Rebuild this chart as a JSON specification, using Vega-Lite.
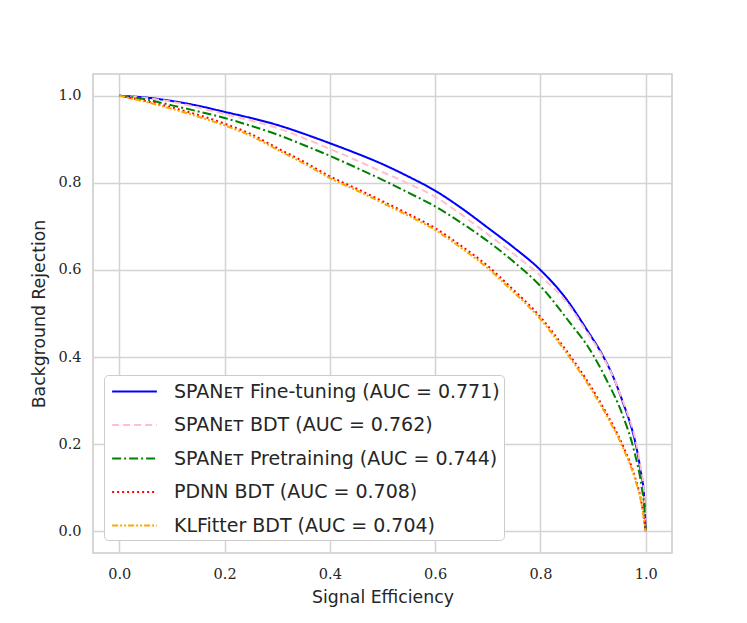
{
  "$schema": "https://vega.github.io/schema/vega-lite/v6.json",
  "autosize": "none",
  "width": 579,
  "height": 479,
  "padding": {"left": 93, "top": 74, "right": 75, "bottom": 70},
  "background": "white",
  "config": {
    "view": {"stroke": "#cccccc", "strokeWidth": 1.6},
    "axis": {
      "grid": true,
      "gridColor": "#d3d3d3",
      "gridWidth": 1.5,
      "domain": false,
      "ticks": false,
      "labelFont": "DejaVu Serif",
      "labelFontSize": 14.5,
      "labelColor": "#262626",
      "titleFont": "DejaVu Sans",
      "titleFontSize": 17.3,
      "titleFontWeight": "normal",
      "titleColor": "#262626"
    }
  },
  "datasets": {
    "roc": [
      {"m": "ft", "x": 0.0, "y": 1.0},
      {"m": "ft", "x": 0.05, "y": 0.996},
      {"m": "ft", "x": 0.1, "y": 0.988},
      {"m": "ft", "x": 0.15, "y": 0.977},
      {"m": "ft", "x": 0.2, "y": 0.963},
      {"m": "ft", "x": 0.25, "y": 0.949},
      {"m": "ft", "x": 0.3, "y": 0.933},
      {"m": "ft", "x": 0.35, "y": 0.913},
      {"m": "ft", "x": 0.4, "y": 0.891},
      {"m": "ft", "x": 0.45, "y": 0.868},
      {"m": "ft", "x": 0.5, "y": 0.843},
      {"m": "ft", "x": 0.55, "y": 0.814},
      {"m": "ft", "x": 0.6, "y": 0.782},
      {"m": "ft", "x": 0.65, "y": 0.742},
      {"m": "ft", "x": 0.7, "y": 0.697},
      {"m": "ft", "x": 0.75, "y": 0.651},
      {"m": "ft", "x": 0.8, "y": 0.6},
      {"m": "ft", "x": 0.85, "y": 0.532},
      {"m": "ft", "x": 0.887, "y": 0.465},
      {"m": "ft", "x": 0.92, "y": 0.4},
      {"m": "ft", "x": 0.94, "y": 0.35},
      {"m": "ft", "x": 0.957, "y": 0.295},
      {"m": "ft", "x": 0.97, "y": 0.25},
      {"m": "ft", "x": 0.979, "y": 0.211},
      {"m": "ft", "x": 0.99, "y": 0.142},
      {"m": "ft", "x": 0.997, "y": 0.08},
      {"m": "ft", "x": 1.0, "y": 0.0},
      {"m": "bdt", "x": 0.0, "y": 1.0},
      {"m": "bdt", "x": 0.05, "y": 0.995},
      {"m": "bdt", "x": 0.1, "y": 0.986},
      {"m": "bdt", "x": 0.15, "y": 0.973},
      {"m": "bdt", "x": 0.2, "y": 0.958},
      {"m": "bdt", "x": 0.25, "y": 0.943},
      {"m": "bdt", "x": 0.3, "y": 0.926},
      {"m": "bdt", "x": 0.35, "y": 0.903},
      {"m": "bdt", "x": 0.4, "y": 0.878},
      {"m": "bdt", "x": 0.45, "y": 0.852},
      {"m": "bdt", "x": 0.5, "y": 0.825},
      {"m": "bdt", "x": 0.55, "y": 0.798},
      {"m": "bdt", "x": 0.6, "y": 0.768},
      {"m": "bdt", "x": 0.65, "y": 0.727},
      {"m": "bdt", "x": 0.7, "y": 0.682},
      {"m": "bdt", "x": 0.75, "y": 0.636},
      {"m": "bdt", "x": 0.8, "y": 0.587},
      {"m": "bdt", "x": 0.85, "y": 0.525},
      {"m": "bdt", "x": 0.887, "y": 0.46},
      {"m": "bdt", "x": 0.92, "y": 0.398},
      {"m": "bdt", "x": 0.94, "y": 0.35},
      {"m": "bdt", "x": 0.957, "y": 0.298},
      {"m": "bdt", "x": 0.97, "y": 0.255},
      {"m": "bdt", "x": 0.979, "y": 0.218},
      {"m": "bdt", "x": 0.99, "y": 0.15},
      {"m": "bdt", "x": 0.997, "y": 0.085},
      {"m": "bdt", "x": 1.0, "y": 0.0},
      {"m": "pre", "x": 0.0, "y": 1.0},
      {"m": "pre", "x": 0.05, "y": 0.992},
      {"m": "pre", "x": 0.1, "y": 0.978},
      {"m": "pre", "x": 0.15, "y": 0.964},
      {"m": "pre", "x": 0.2, "y": 0.949},
      {"m": "pre", "x": 0.25, "y": 0.931},
      {"m": "pre", "x": 0.3, "y": 0.911},
      {"m": "pre", "x": 0.35, "y": 0.887},
      {"m": "pre", "x": 0.4, "y": 0.862},
      {"m": "pre", "x": 0.45, "y": 0.835},
      {"m": "pre", "x": 0.5, "y": 0.807},
      {"m": "pre", "x": 0.55, "y": 0.777},
      {"m": "pre", "x": 0.6, "y": 0.746},
      {"m": "pre", "x": 0.65, "y": 0.708},
      {"m": "pre", "x": 0.7, "y": 0.666},
      {"m": "pre", "x": 0.75, "y": 0.618},
      {"m": "pre", "x": 0.8, "y": 0.563},
      {"m": "pre", "x": 0.856, "y": 0.479},
      {"m": "pre", "x": 0.894, "y": 0.417},
      {"m": "pre", "x": 0.925, "y": 0.349},
      {"m": "pre", "x": 0.957, "y": 0.264},
      {"m": "pre", "x": 0.979, "y": 0.18},
      {"m": "pre", "x": 0.992, "y": 0.104},
      {"m": "pre", "x": 0.998, "y": 0.044},
      {"m": "pre", "x": 1.0, "y": 0.0},
      {"m": "pdnn", "x": 0.0, "y": 1.0},
      {"m": "pdnn", "x": 0.05, "y": 0.988},
      {"m": "pdnn", "x": 0.1, "y": 0.973},
      {"m": "pdnn", "x": 0.15, "y": 0.956},
      {"m": "pdnn", "x": 0.2, "y": 0.936},
      {"m": "pdnn", "x": 0.25, "y": 0.912},
      {"m": "pdnn", "x": 0.3, "y": 0.88},
      {"m": "pdnn", "x": 0.35, "y": 0.849},
      {"m": "pdnn", "x": 0.4, "y": 0.815},
      {"m": "pdnn", "x": 0.45, "y": 0.787},
      {"m": "pdnn", "x": 0.5, "y": 0.758},
      {"m": "pdnn", "x": 0.55, "y": 0.728},
      {"m": "pdnn", "x": 0.6, "y": 0.696},
      {"m": "pdnn", "x": 0.65, "y": 0.655},
      {"m": "pdnn", "x": 0.7, "y": 0.609},
      {"m": "pdnn", "x": 0.742, "y": 0.562},
      {"m": "pdnn", "x": 0.8, "y": 0.492},
      {"m": "pdnn", "x": 0.843, "y": 0.425},
      {"m": "pdnn", "x": 0.887, "y": 0.349},
      {"m": "pdnn", "x": 0.925, "y": 0.272},
      {"m": "pdnn", "x": 0.957, "y": 0.196},
      {"m": "pdnn", "x": 0.979, "y": 0.127},
      {"m": "pdnn", "x": 0.992, "y": 0.066},
      {"m": "pdnn", "x": 1.0, "y": 0.0},
      {"m": "klf", "x": 0.0, "y": 1.0},
      {"m": "klf", "x": 0.05, "y": 0.986},
      {"m": "klf", "x": 0.1, "y": 0.97},
      {"m": "klf", "x": 0.15, "y": 0.952},
      {"m": "klf", "x": 0.2, "y": 0.932},
      {"m": "klf", "x": 0.25, "y": 0.908},
      {"m": "klf", "x": 0.3, "y": 0.876},
      {"m": "klf", "x": 0.35, "y": 0.845},
      {"m": "klf", "x": 0.4, "y": 0.811},
      {"m": "klf", "x": 0.45, "y": 0.783},
      {"m": "klf", "x": 0.5, "y": 0.754},
      {"m": "klf", "x": 0.55, "y": 0.724},
      {"m": "klf", "x": 0.6, "y": 0.692},
      {"m": "klf", "x": 0.65, "y": 0.65},
      {"m": "klf", "x": 0.7, "y": 0.604},
      {"m": "klf", "x": 0.742, "y": 0.557},
      {"m": "klf", "x": 0.8, "y": 0.487},
      {"m": "klf", "x": 0.843, "y": 0.42},
      {"m": "klf", "x": 0.887, "y": 0.344},
      {"m": "klf", "x": 0.925, "y": 0.267},
      {"m": "klf", "x": 0.957, "y": 0.191},
      {"m": "klf", "x": 0.979, "y": 0.123},
      {"m": "klf", "x": 0.992, "y": 0.063},
      {"m": "klf", "x": 1.0, "y": 0.0}
    ]
  },
  "data": {"name": "roc"},
  "mark": {"type": "line", "strokeWidth": 2, "clip": true, "interpolate": "monotone"},
  "encoding": {
    "x": {
      "field": "x",
      "type": "quantitative",
      "scale": {"domain": [-0.05, 1.05], "nice": false, "zero": false},
      "axis": {"values": [0, 0.2, 0.4, 0.6, 0.8, 1.0], "format": ".1f", "labelPadding": 14, "title": "Signal Efficiency", "titlePadding": 8}
    },
    "y": {
      "field": "y",
      "type": "quantitative",
      "scale": {"domain": [-0.05, 1.05], "nice": false, "zero": false},
      "axis": {"values": [0, 0.2, 0.4, 0.6, 0.8, 1.0], "format": ".1f", "labelPadding": 12, "title": "Background Rejection", "titlePadding": 9}
    },
    "order": {"field": "x", "type": "quantitative"},
    "color": {
      "field": "m",
      "type": "nominal",
      "scale": {
        "domain": ["ft", "bdt", "pre", "pdnn", "klf"],
        "range": ["#0000ff", "#ffc0cb", "#008000", "#ff0000", "#ffa500"]
      },
      "legend": {
        "orient": "none",
        "legendX": 11,
        "legendY": 301,
        "title": null,
        "symbolType": "M-0.75,0H3.25",
        "symbolSize": 500,
        "symbolStrokeWidth": 2,
        "labelFont": "DejaVu Sans",
        "labelFontSize": 19,
        "labelLimit": 0,
        "labelColor": "#262626",
        "labelOffset": 41,
        "rowPadding": 10.5,
        "padding": 4,
        "strokeColor": "#cccccc",
        "fillColor": "white",
        "cornerRadius": 4,
        "labelExpr": "datum.label == 'ft' ? 'SPANᴇᴛ Fine-tuning (AUC = 0.771)' : datum.label == 'bdt' ? 'SPANᴇᴛ BDT (AUC = 0.762)' : datum.label == 'pre' ? 'SPANᴇᴛ Pretraining (AUC = 0.744)' : datum.label == 'pdnn' ? 'PDNN BDT (AUC = 0.708)' : 'KLFitter BDT (AUC = 0.704)'"
      }
    },
    "strokeDash": {
      "field": "m",
      "type": "nominal",
      "scale": {
        "domain": ["ft", "bdt", "pre", "pdnn", "klf"],
        "range": [[1, 0], [7, 4], [9, 3, 2, 3], [2, 3], [6, 2, 2, 2, 2, 2]]
      },
      "legend": null
    }
  }
}
